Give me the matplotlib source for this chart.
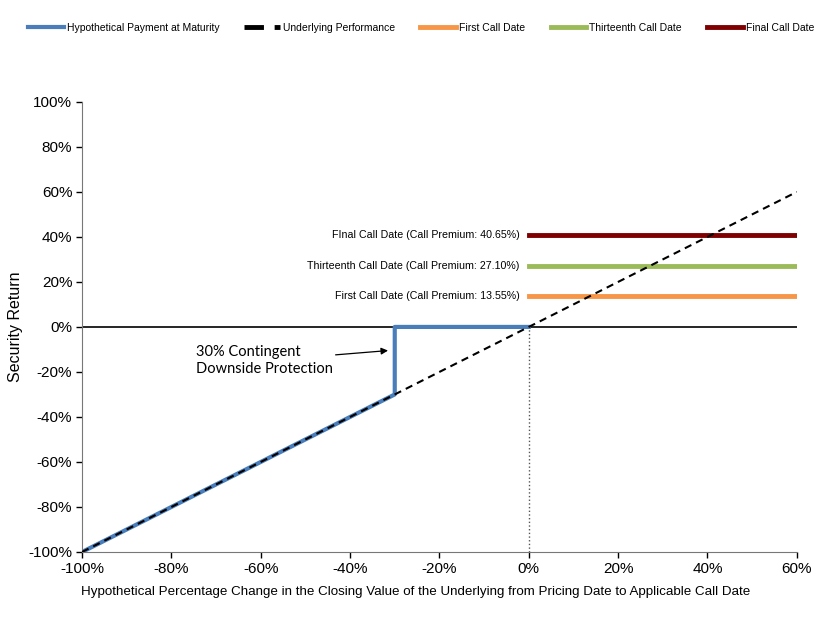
import numpy as np
import matplotlib
matplotlib.use('Agg')
import matplotlib.pyplot as plt
from matplotlib.lines import Line2D
from matplotlib.ticker import FuncFormatter, MultipleLocator

plt.rcParams['font.family'] = ['Liberation Sans', 'DejaVu Sans']

# data (percent)
payment_x = [-100, -30, -30, 0]
payment_y = [-100, -30, 0, 0]
underlying_x = [-100, 60]
underlying_y = [-100, 60]
call_names = ['First Call Date', 'Thirteenth Call Date', 'Final Call Date']
call_labels = ['First Call Date (Call Premium: 13.55%)',
               'Thirteenth Call Date (Call Premium: 27.10%)',
               'FInal Call Date (Call Premium: 40.65%)']
call_premiums = [13.55, 27.10, 40.65]
call_x = [0, 60]
call_colors = ['#f79646', '#9bbb59', '#7f0000']


def pct(v, pos):
    return '%d%%' % v


def main():
    fig = plt.figure(figsize=(8.37, 6.2), dpi=100)
    ax = fig.add_axes([0.098, 0.1097, 0.854, 0.726])

    ax.axhline(0, color='black', lw=1.2, zorder=1)
    ax.plot([0, 0], [-100, 0], color='#555555', lw=1, ls=':', zorder=1)

    h_pay, = ax.plot(payment_x, payment_y, color='#4a7ebb', lw=3,
                     label='Hypothetical Payment at Maturity', zorder=2)
    ax.plot(underlying_x, underlying_y, color='black', lw=1.5,
            ls=(0, (3.5, 2.5)), zorder=3)
    h_und = Line2D([], [], color='black', lw=3.5, ls=(0, (4.0, 2.2)),
                   label='Underlying Performance')

    handles = [h_pay, h_und]
    for name, lab, prem, col in zip(call_names, call_labels, call_premiums, call_colors):
        h, = ax.plot(call_x, [prem, prem], color=col, lw=3.5, label=name, zorder=2)
        handles.append(h)
        ax.text(-2, prem, lab, ha='right', va='center', fontsize=7.7)

    ax.annotate('30% Contingent\nDownside Protection', xy=(-31.5, -10.5),
                xytext=(-74.5, -15), fontsize=10.5, family=['Lato', 'DejaVu Sans'],
                ha='left', va='center', linespacing=1.3,
                arrowprops=dict(arrowstyle='-|>', color='black', lw=0.9,
                                mutation_scale=10, shrinkA=0, shrinkB=0))

    ax.set_xlim(-100, 60)
    ax.set_ylim(-100, 100)
    ax.xaxis.set_major_locator(MultipleLocator(20))
    ax.yaxis.set_major_locator(MultipleLocator(20))
    ax.xaxis.set_major_formatter(FuncFormatter(pct))
    ax.yaxis.set_major_formatter(FuncFormatter(pct))
    ax.tick_params(labelsize=11, direction='out', length=4, width=1, pad=3)
    for s in ['top', 'right']:
        ax.spines[s].set_visible(False)
    for s in ['left', 'bottom']:
        ax.spines[s].set_color('#777777')

    ax.set_xlabel('Hypothetical Percentage Change in the Closing Value of the Underlying '
                  'from Pricing Date to Applicable Call Date', fontsize=9.6)
    ax.xaxis.set_label_coords(0.467, -0.075)
    ax.set_ylabel('Security Return', fontsize=11.5, labelpad=4)

    fig.legend(handles=handles, loc='upper left', bbox_to_anchor=(0.022, 0.978),
               ncol=5, frameon=False, fontsize=7.5,
               handlelength=3.45, handletextpad=0.29, columnspacing=2.4)

    fig.savefig('out.png', dpi=100)


if __name__ == '__main__':
    main()
